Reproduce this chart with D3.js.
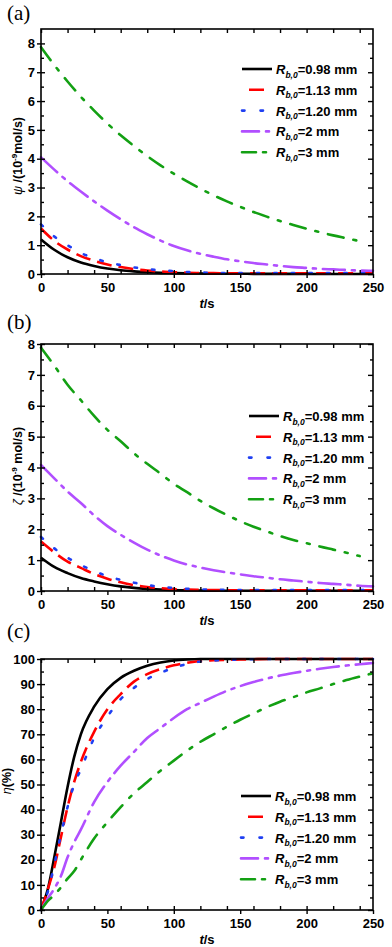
<!DOCTYPE html>
<html>
<head>
<meta charset="utf-8">
<script src="https://cdn.jsdelivr.net/npm/d3@7"></script>
<style>
  body { margin: 0; background: #fff; }
  svg { display: block; }
  text { font-family: "Liberation Sans", Arial, sans-serif; font-weight: bold; fill: #000; }
</style>
</head>
<body>
<div id="chart"></div>
<script>
// time points (s)
var times = [0,10,20,30,40,50,60,70,80,90,100,110,120,130,140,150,160,170,180,190,200,210,220,230,240,250];
var timesC = [0,5,10,15,20,25,30,40,50,60,70,80,90,100,110,120,130,140,150,160,170,180,190,200,210,220,230,240,250];

var xTicks = [0,50,100,150,200,250];
var seriesNames = ["0.98 mm", "1.13 mm", "1.20 mm", "2 mm", "3 mm"];

// (a) psi, 10^-9 mol/s
var blackA  = [1.20,0.84,0.58,0.40,0.28,0.19,0.13,0.09,0.06,0.04,0.03,0.02,0.015,0.01,0.01,0.01,0.005,0.005,0.005,0.005,0.005,0,0,0,0,0];
var redA    = [1.58,1.15,0.85,0.62,0.46,0.33,0.24,0.17,0.12,0.09,0.06,0.045,0.035,0.03,0.025,0.02,0.02,0.02,0.02,0.02,0.02,0.02,0.02,0.02,0.02,0.02];
var blueA   = [1.72,1.30,1.00,0.73,0.55,0.41,0.31,0.23,0.17,0.13,0.10,0.07,0.05,0.04,0.03,0.03,0.03,0.03,0.03,0.03,0.03,0.03,0.03,0.03,0.03,0.03];
var purpleA = [4.05,3.62,3.22,2.86,2.52,2.20,1.90,1.62,1.38,1.16,0.97,0.82,0.70,0.60,0.51,0.44,0.38,0.33,0.28,0.24,0.21,0.18,0.16,0.14,0.12,0.11];
var greenA  = [7.87,7.25,6.68,6.15,5.67,5.22,4.81,4.44,4.09,3.77,3.48,3.21,2.96,2.73,2.52,2.33,2.15,1.99,1.84,1.70,1.57,1.45,1.34,1.24,1.14];

// (b) zeta, 10^-9 mol/s
var blackB  = [1.08,0.78,0.58,0.42,0.31,0.22,0.15,0.10,0.07,0.05,0.03,0.02,0.015,0.01,0.01,0.01,0.01,0.01,0.01,0.01,0.01,0.01,0.01,0.01,0.01,0.01];
var redB    = [1.60,1.25,0.95,0.75,0.55,0.40,0.28,0.19,0.13,0.09,0.06,0.045,0.035,0.03,0.025,0.02,0.02,0.02,0.02,0.02,0.02,0.02,0.02,0.02,0.02,0.02];
var blueB   = [1.75,1.38,1.08,0.84,0.65,0.48,0.36,0.27,0.19,0.14,0.10,0.07,0.05,0.04,0.035,0.03,0.03,0.03,0.03,0.03,0.03,0.03,0.03,0.03,0.03,0.03];
var purpleB = [4.08,3.65,3.22,2.85,2.45,2.10,1.82,1.57,1.34,1.15,0.99,0.86,0.76,0.67,0.60,0.54,0.48,0.43,0.38,0.34,0.30,0.26,0.23,0.20,0.17,0.15];
var greenB  = [7.88,7.30,6.68,6.18,5.67,5.22,4.85,4.46,4.12,3.80,3.47,3.20,2.92,2.68,2.46,2.26,2.08,1.93,1.78,1.65,1.55,1.44,1.34,1.24,1.13];

// (c) eta, %
var blackC  = [0,8,21,35,49,61,70,81,88,92.5,95.3,97.3,98.6,99.4,99.8,100,100,100,100,100,100,100,100,100,100,100,100,100,100];
var redC    = [0,8,17,29,41,51,59,71,80,86,91,94,96,97.5,98.5,99.2,99.5,99.7,99.8,99.9,100,100,100,100,100,100,100,100,100];
var blueC   = [0,7,18,30,41,50,56,68.5,77,84,88.5,92,94.5,96.5,98,99,99.4,99.7,99.8,99.9,100,100,100,100,100,100,100,100,100];
var purpleC = [0,4.5,8.5,13.5,21,27,32,43,51,57.5,63,68.5,72.5,76.5,80,82.5,85,87.3,89.2,90.8,92.2,93.4,94.4,95.3,96.1,96.8,97.4,97.9,98.4];
var greenC  = [0,3.5,6,9,12.5,15.5,20,28.5,35,41,46.5,51,55.5,59.5,63.5,67,70,73,75.8,78.3,80.8,83,84.8,86.7,88.3,90,91.6,93,94.3];

// line styles
var colors = ["#000000", "#ff0000", "#1f3ff2", "#b14fff", "#13a013"];
var dashes = [null, "15,7", "2.5,15", "22,7,3,7", "16,10,3,10"];
var legendDashes = [null, "0,7,15,20", "2.5,16,2.5,20", "17,7,3,10", "14,7,3,10"];
var caps = ["butt", "butt", "round", "round", "round"];

var svg = d3.select("#chart")
  .append("svg")
    .attr("width", 392)
    .attr("height", 947);

var x = d3.scaleLinear().domain([0, 250]).range([41, 373]);

function panel(p) {
  var y = d3.scaleLinear().domain(p.yDomain).range([p.bottom, p.top]);
  var g = svg.append("g");

  // lines
  var line = d3.line()
    .x(function(d) { return x(d[0]); })
    .y(function(d) { return y(d[1]); })
    .curve(d3.curveMonotoneX);

  p.series.forEach(function(vals, i) {
    var pts = d3.zip(p.t.slice(0, vals.length), vals);
    g.append("path")
      .attr("d", line(pts))
      .attr("fill", "none")
      .attr("stroke", colors[i])
      .attr("stroke-width", 2.6)
      .attr("stroke-linecap", caps[i])
      .attr("stroke-dasharray", dashes[i]);
  });

  // axes: bottom
  g.append("g")
    .attr("transform", "translate(0," + p.bottom + ")")
    .call(d3.axisBottom(x).tickValues(xTicks).tickSizeInner(4).tickSizeOuter(0).tickPadding(5))
    .call(function(a) { a.select(".domain").remove(); a.selectAll("text").style("font-size", "13px"); });
  g.append("g")
    .attr("transform", "translate(0," + p.bottom + ")")
    .call(d3.axisBottom(x).ticks(10).tickSizeInner(-4).tickSizeOuter(0).tickFormat(""))
    .select(".domain").remove();
  // top
  g.append("g")
    .attr("transform", "translate(0," + p.top + ")")
    .call(d3.axisTop(x).ticks(10).tickSizeInner(-4).tickSizeOuter(0).tickFormat(""))
    .select(".domain").remove();
  // left
  g.append("g")
    .attr("transform", "translate(41,0)")
    .call(d3.axisLeft(y).tickValues(p.yTicks).tickSizeInner(4).tickSizeOuter(0).tickPadding(2))
    .call(function(a) { a.select(".domain").remove(); a.selectAll("text").style("font-size", "13px"); });
  g.append("g")
    .attr("transform", "translate(41,0)")
    .call(d3.axisLeft(y).tickValues(p.yMinor).tickSizeInner(-3).tickSizeOuter(0).tickFormat(""))
    .select(".domain").remove();
  g.append("g")
    .attr("transform", "translate(41,0)")
    .call(d3.axisLeft(y).tickValues(p.yTicks).tickSizeInner(-4).tickSizeOuter(0).tickFormat(""))
    .select(".domain").remove();
  // right
  g.append("g")
    .attr("transform", "translate(373,0)")
    .call(d3.axisRight(y).tickValues(p.yTicks).tickSizeInner(-5).tickSizeOuter(0).tickFormat(""))
    .select(".domain").remove();
  g.append("g")
    .attr("transform", "translate(373,0)")
    .call(d3.axisRight(y).tickValues(p.yMinor).tickSizeInner(-3).tickSizeOuter(0).tickFormat(""))
    .select(".domain").remove();
  g.selectAll(".tick line").attr("stroke-width", 1.4);

  // frame
  g.append("rect")
    .attr("x", 41).attr("y", p.top)
    .attr("width", 373 - 41).attr("height", p.bottom - p.top)
    .attr("fill", "none").attr("stroke", "#000").attr("stroke-width", 1.6);

  // panel letter
  g.append("text")
    .attr("x", 7).attr("y", p.letterY)
    .style("font-family", "'Liberation Serif', 'Times New Roman', serif")
    .style("font-weight", "normal")
    .style("font-size", "21px")
    .text(p.letter);

  // x label
  var xl = g.append("text")
    .attr("x", 207).attr("y", p.bottom + 34)
    .attr("text-anchor", "middle")
    .style("font-size", "13px");
  xl.append("tspan").style("font-style", "italic").text("t");
  xl.append("tspan").text("/s");

  // y label
  var yl = g.append("text")
    .attr("transform", "translate(" + p.yLabelX + "," + p.yLabelY + ") rotate(-90)")
    .attr("text-anchor", "middle")
    .style("font-size", "12.5px");
  p.yLabel(yl);

  // legend
  p.series.forEach(function(vals, i) {
    var ly = p.legY + i * 20.8;
    g.append("line")
      .attr("x1", p.legX).attr("x2", p.legX + 30)
      .attr("y1", ly).attr("y2", ly)
      .attr("stroke", colors[i])
      .attr("stroke-width", 2.6)
      .attr("stroke-linecap", caps[i])
      .attr("stroke-dasharray", legendDashes[i]);
    var t = g.append("text")
      .attr("x", p.legX + 34).attr("y", ly + 5)
      .style("font-size", "13px");
    t.append("tspan").style("font-style", "italic").text("R");
    t.append("tspan").attr("dy", 3.5).style("font-style", "italic").style("font-size", "8.5px").text("b,0");
    t.append("tspan").attr("dy", -3.5).text("=" + seriesNames[i]);
  });
}

panel({
  letter: "(a)", letterY: 20, top: 29, bottom: 274,
  yDomain: [0, 8.5], yTicks: [0,1,2,3,4,5,6,7,8], yMinor: [0.5,1.5,2.5,3.5,4.5,5.5,6.5,7.5],
  t: times, series: [blackA, redA, blueA, purpleA, greenA],
  legX: 242, legY: 69, yLabelX: 22, yLabelY: 156,
  yLabel: function(s) {
    s.append("tspan").style("font-style", "italic").style("font-weight", "normal").text("\u03C8");
    s.append("tspan").text(" /(10");
    s.append("tspan").attr("dy", -5).style("font-size", "8px").text("-9");
    s.append("tspan").attr("dy", 5).text("mol/s)");
  }
});

panel({
  letter: "(b)", letterY: 329, top: 344, bottom: 591,
  yDomain: [0, 8], yTicks: [0,1,2,3,4,5,6,7,8], yMinor: [0.5,1.5,2.5,3.5,4.5,5.5,6.5,7.5],
  t: times, series: [blackB, redB, blueB, purpleB, greenB],
  legX: 249, legY: 416, yLabelX: 22, yLabelY: 466,
  yLabel: function(s) {
    s.append("tspan").style("font-style", "italic").style("font-weight", "normal").text("\u03B6");
    s.append("tspan").text(" /(10");
    s.append("tspan").attr("dy", -5).style("font-size", "8px").text("-9");
    s.append("tspan").attr("dy", 5).text(" mol/s)");
  }
});

panel({
  letter: "(c)", letterY: 638, top: 659, bottom: 910,
  yDomain: [0, 100], yTicks: [0,10,20,30,40,50,60,70,80,90,100], yMinor: [5,15,25,35,45,55,65,75,85,95],
  t: timesC, series: [blackC, redC, blueC, purpleC, greenC],
  legX: 241, legY: 796, yLabelX: 11, yLabelY: 781,
  yLabel: function(s) {
    s.append("tspan").style("font-style", "italic").style("font-weight", "normal").text("\u03B7");
    s.append("tspan").text("(%)");
  }
});
</script>
</body>
</html>
